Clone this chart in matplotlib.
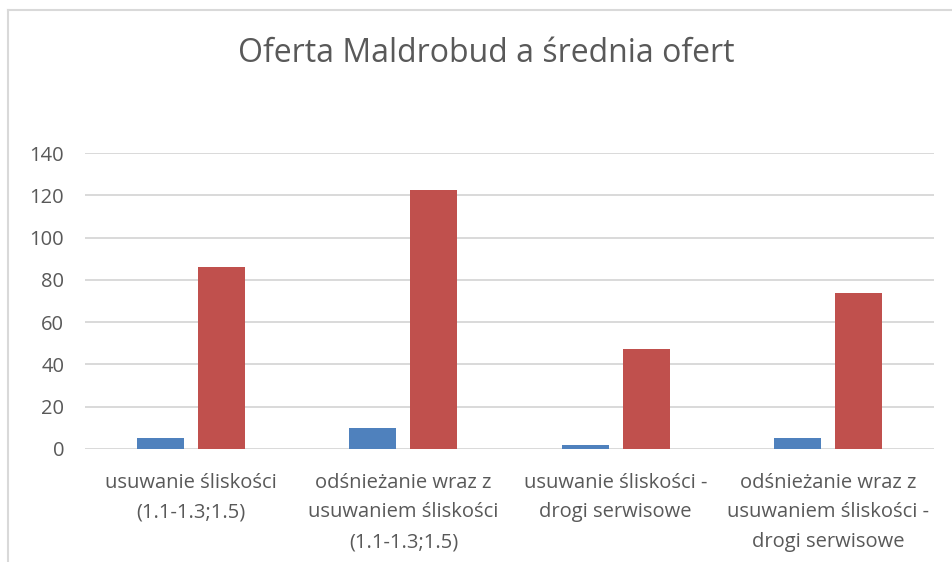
import matplotlib
matplotlib.use("Agg")
import matplotlib.pyplot as plt
import numpy as np
from matplotlib.lines import Line2D

plt.rcParams["font.family"] = ["Open Sans", "DejaVu Sans"]

# Data
TITLE = "Oferta Maldrobud a średnia ofert"
categories = [
    "usuwanie śliskości\n(1.1-1.3;1.5)",
    "odśnieżanie wraz z\nusuwaniem śliskości\n(1.1-1.3;1.5)",
    "usuwanie śliskości -\ndrogi serwisowe",
    "odśnieżanie wraz z\nusuwaniem śliskości -\ndrogi serwisowe",
]
maldrobud = [5, 10, 2, 5]
srednia = [86, 122.5, 47.5, 74]
yticks = [0, 20, 40, 60, 80, 100, 120, 140]

BLUE = "#4F81BD"
RED = "#C0504D"
GRID = "#D9D9D9"
TEXT = "#595959"

W, H = 952, 562
fig = plt.figure(figsize=(W / 100, H / 100), dpi=100)
ax = fig.add_axes([85 / W, 1 - 449 / H, (934 - 85) / W, (449 - 153) / H])

x = np.arange(len(categories))
bw = 0.221
off = 0.1437
ax.bar(x - off, maldrobud, bw, color=BLUE, zorder=3)
ax.bar(x + off, srednia, bw, color=RED, zorder=3)

ax.set_xlim(-0.5, len(categories) - 0.5)
ax.set_ylim(0, 140)
ax.set_yticks(yticks)
ax.yaxis.grid(True, color=GRID, linewidth=1.4, zorder=0)
ax.set_axisbelow(True)
for s in ax.spines.values():
    s.set_visible(False)

ax.set_xticks(x)
ax.set_xticklabels(categories, fontsize=14.5, color=TEXT, linespacing=1.65)
ax.tick_params(axis="x", length=0, pad=17)
ax.tick_params(axis="y", length=0, pad=15, labelsize=14.5, labelcolor=TEXT)

fig.text(486 / W, 1 - 54 / H, TITLE, fontsize=23, color=TEXT,
         ha="center", va="center")

# chart frame (top and left edges visible in the crop)
fig.add_artist(Line2D([8 / W, 1], [1 - 10 / H] * 2, color=GRID, linewidth=1.5))
fig.add_artist(Line2D([8 / W] * 2, [0, 1 - 10 / H], color=GRID, linewidth=1.5))

fig.savefig("out.png", dpi=100)
